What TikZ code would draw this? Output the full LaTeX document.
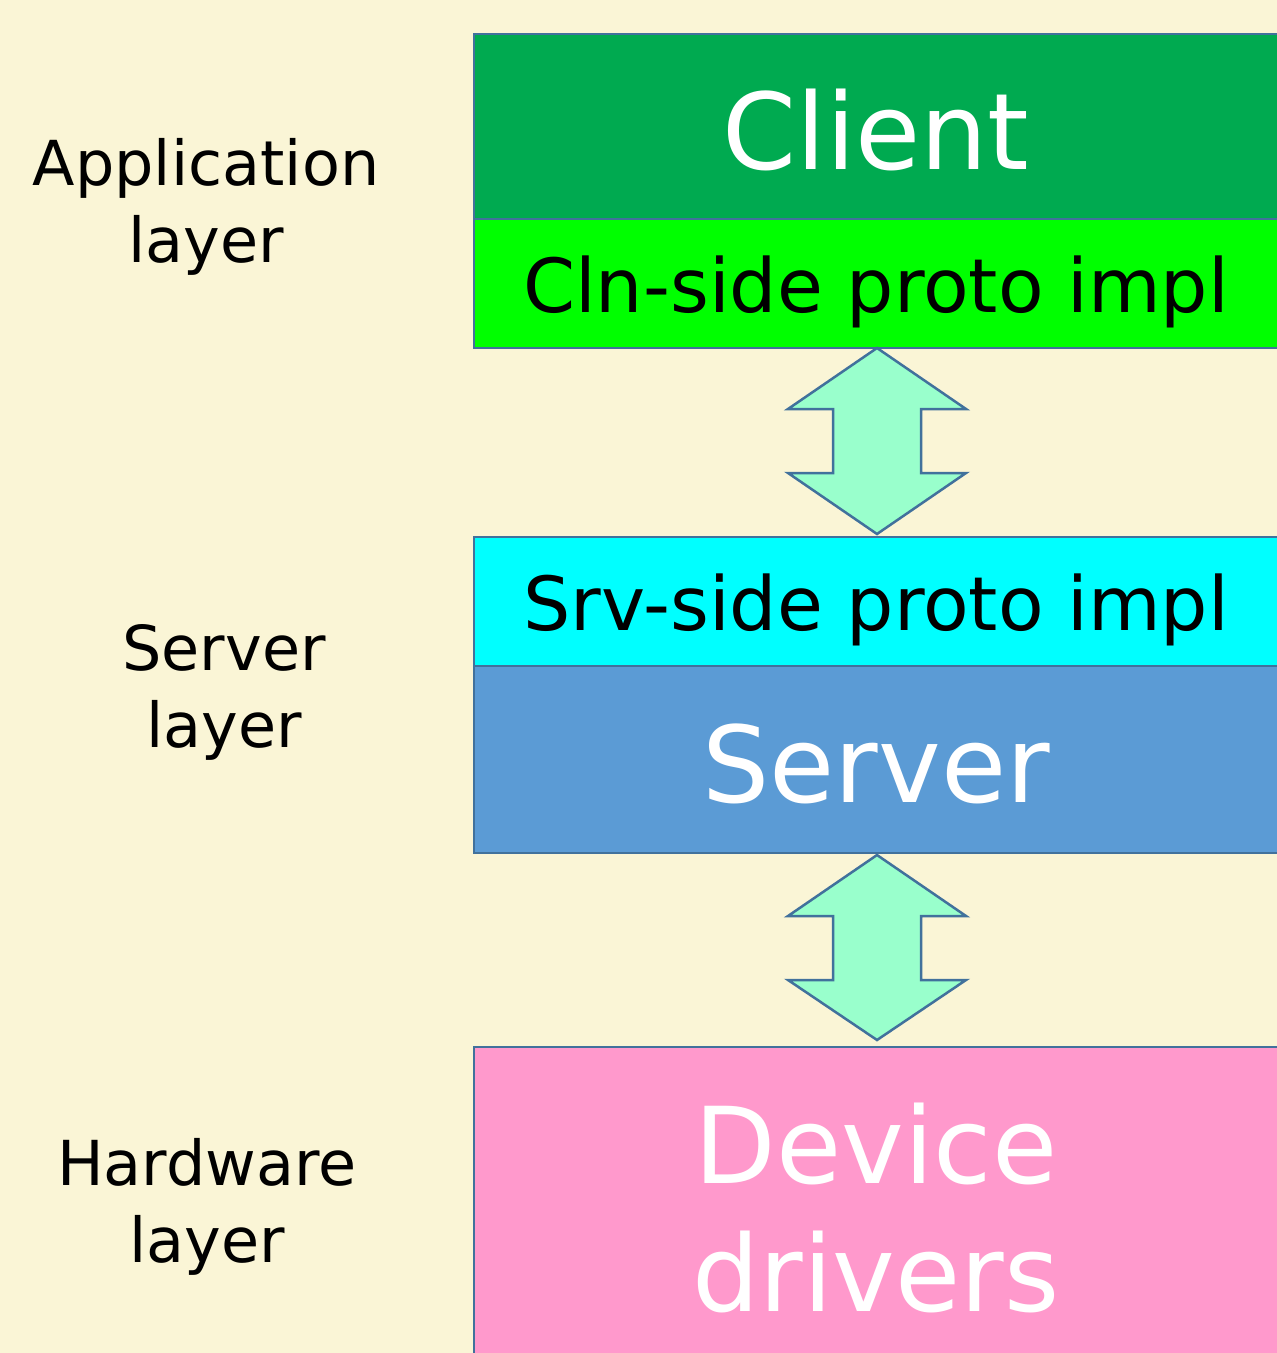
\documentclass[tikz,border=0pt]{standalone}
\usepackage{fontspec}
\setmainfont{DejaVu Sans}
\definecolor{bgc}{HTML}{FAF5D6}
\definecolor{edgec}{HTML}{41719C}
\definecolor{clientc}{HTML}{00AA50}
\definecolor{clnc}{HTML}{00FF00}
\definecolor{srvc}{HTML}{00FFFF}
\definecolor{serverc}{HTML}{5B9BD5}
\definecolor{devc}{HTML}{FF99CC}
\definecolor{arrowc}{HTML}{99FFCC}
\tikzset{
  layerbox/.style={draw=edgec, line width=1.25pt},
  bigtext/.style={text=white, font=\fontsize{53}{64}\selectfont, inner sep=0pt, anchor=base},
  midtext/.style={text=black, font=\fontsize{37.3}{44}\selectfont, inner sep=0pt, anchor=base},
  sidetext/.style={text=black, font=\fontsize{31}{38.5}\selectfont, inner sep=0pt, anchor=base, align=center},
  dblarrow/.style={draw=edgec, line width=1.25pt, fill=arrowc, line join=miter}
}
\begin{document}
\begin{tikzpicture}[x=0.5pt,y=-0.5pt]
\useasboundingbox (0,0) rectangle (1277,1353);
\fill[bgc] (0,0) rectangle (1277,1353);
% boxes
\path[layerbox, fill=clientc] (474,34) rectangle (1282,219);
\path[layerbox, fill=clnc] (474,219) rectangle (1282,348);
\path[layerbox, fill=srvc] (474,537) rectangle (1282,666);
\path[layerbox, fill=serverc] (474,666) rectangle (1282,853);
\path[layerbox, fill=devc] (474,1047) rectangle (1282,1360);
% texts in boxes
\node[bigtext] (client) at (876,170) {Client};
\node[midtext] (cln) at (876,313) {Cln-side proto impl};
\node[midtext] (srv) at (876,630) {Srv-side proto impl};
\node[bigtext] (server) at (876,802) {Server};
\node[bigtext, align=center] (dev) at (876,1311) {Device\\drivers};
% side labels (anchor base = last line baseline)
\node[sidetext] (app) at (206,263) {Application\\layer};
\node[sidetext] (srvl) at (224,747) {Server\\layer};
\node[sidetext] (hw) at (207,1262) {Hardware\\layer};
% double arrows
\path[dblarrow] (877,348) -- (966,409) -- (921,409) -- (921,473) -- (966,473) -- (877,534) -- (788,473) -- (833,473) -- (833,409) -- (788,409) -- cycle;
\path[dblarrow] (877,855) -- (966,916) -- (921,916) -- (921,980) -- (966,980) -- (877,1040) -- (788,980) -- (833,980) -- (833,916) -- (788,916) -- cycle;
\end{tikzpicture}
\end{document}
